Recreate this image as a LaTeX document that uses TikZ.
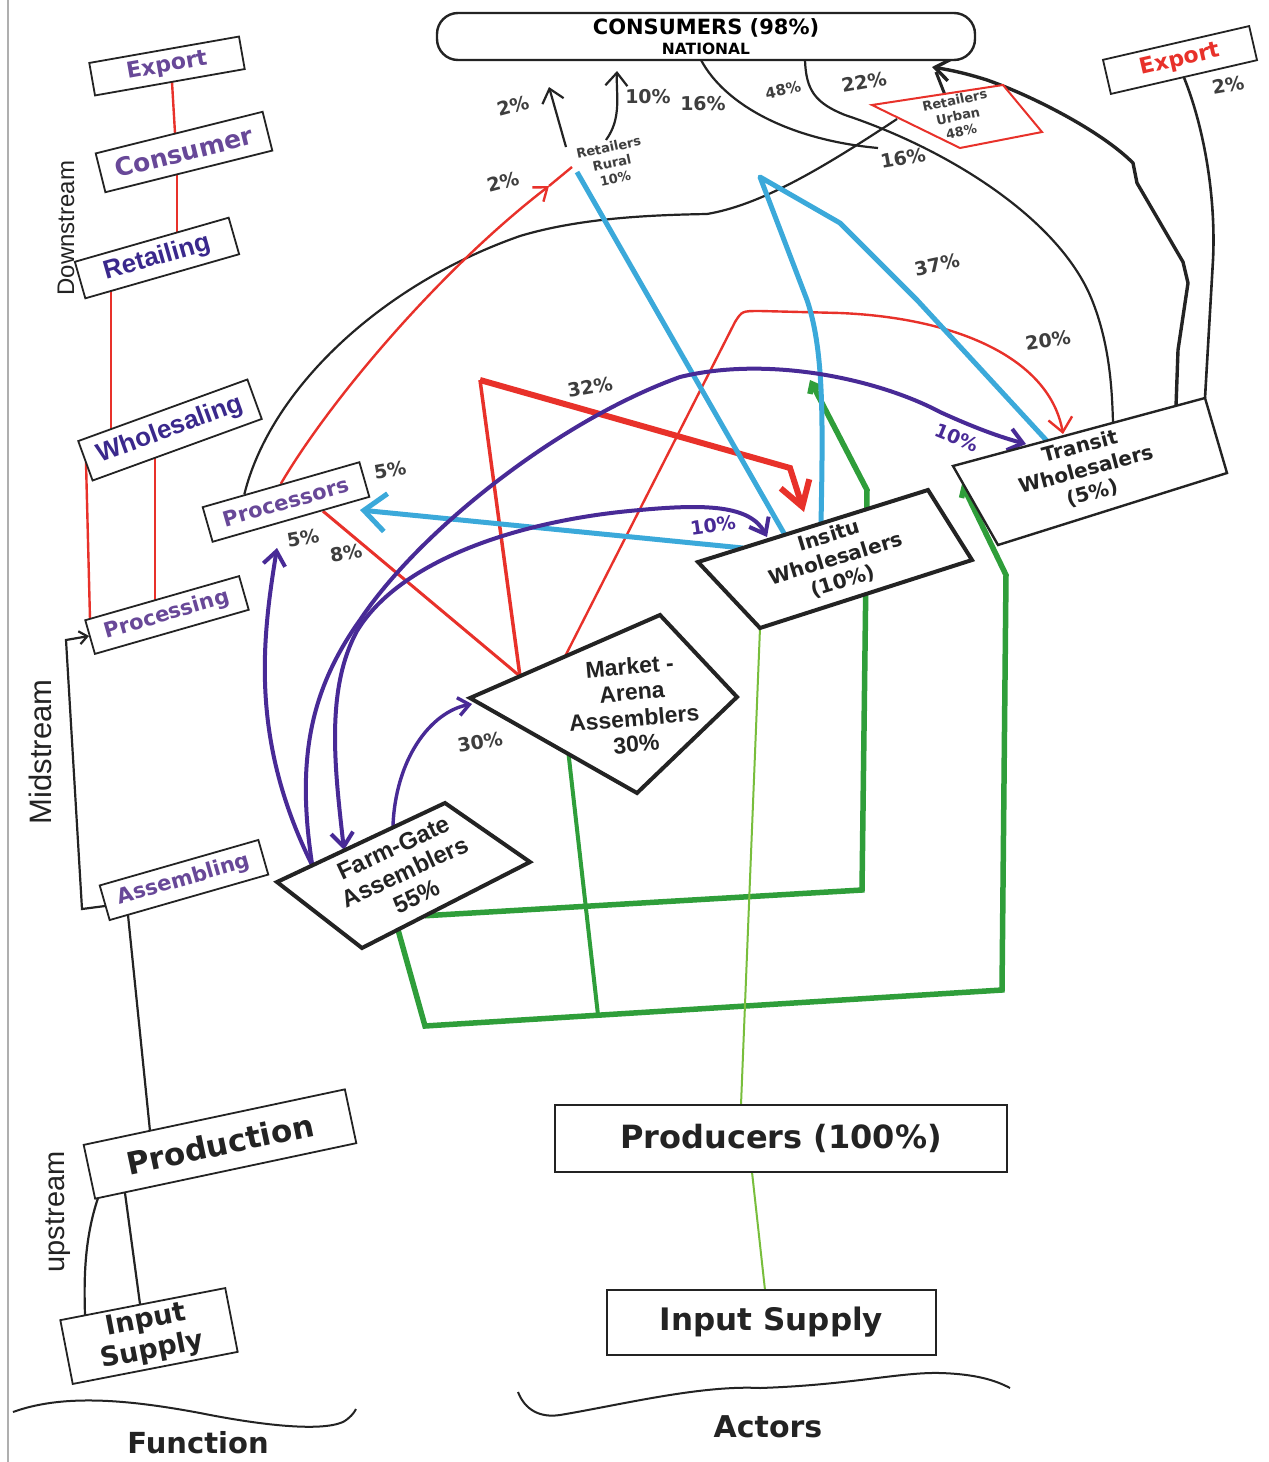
\documentclass[tikz,border=0pt]{standalone}
\usepackage{fontspec}
\setmainfont{Liberation Sans}
\newfontfamily\widefont{DejaVu Sans}
\usetikzlibrary{arrows.meta,calc}

\definecolor{cred}{RGB}{232,49,42}
\definecolor{ccyan}{RGB}{59,169,218}
\definecolor{cpurple}{RGB}{72,42,150}
\definecolor{tpurple}{RGB}{104,72,152}
\definecolor{dpurple}{RGB}{58,40,140}
\definecolor{cgreen}{RGB}{47,158,58}
\definecolor{lgreen}{RGB}{120,190,60}
\definecolor{ink}{RGB}{35,35,35}
\definecolor{pctgray}{RGB}{62,62,62}
\definecolor{edgegray}{RGB}{175,175,175}

\newcommand\fsz[2]{\fontsize{#1}{#2}\selectfont}

\pgfdeclarelayer{paper}
\pgfdeclarelayer{wires}
\pgfsetlayers{paper,wires,main}

\begin{document}
\begin{tikzpicture}[x=1pt,y=-1pt,
  fnbox/.style={draw=ink, line width=1.8pt, fill=white, inner sep=0pt, text=tpurple},
  actbox/.style={draw=ink, line width=2.2pt, fill=white, inner sep=0pt, text=ink},
  shapeedge/.style={draw=ink, line width=4pt, fill=white, line join=miter},
  pctl/.style={text=pctgray, inner sep=0pt, font=\widefont\bfseries\fsz{19}{19}},
  kline/.style={draw=ink, line width=2.2pt},
  rline/.style={draw=cred, line width=2.4pt},
  cline/.style={draw=ccyan, line width=5pt},
  pline/.style={draw=cpurple, line width=4pt},
  gline/.style={draw=cgreen, line width=5.5pt},
  kbarb/.style={-{Straight Barb[length=13pt,width=22pt]}},
  pbarb/.style={-{Straight Barb[length=14pt,width=22pt]}},
  smallbarb/.style={-{Straight Barb[length=8pt,width=13pt]}},
]
\useasboundingbox (0,0) rectangle (1269,1462);
\begin{pgfonlayer}{paper}
\fill[white] (0,0) rectangle (1269,1462);
\draw[edgegray, line width=1.2pt] (8,0) -- (8,1462);
\end{pgfonlayer}

% ---------- function column ----------
\node[fnbox, rotate=10, minimum width=152pt, minimum height=33pt, font=\widefont\bfseries\fsz{22}{22}] (fExport) at (167,66) {Export};
\node[fnbox, rotate=14, minimum width=172pt, minimum height=40pt, font=\widefont\bfseries\fsz{25}{25}] (fConsumer) at (184,152) {Consumer};
\node[fnbox, rotate=16, minimum width=160pt, minimum height=38pt, text=dpurple, font=\bfseries\fsz{26}{26}] (fRetail) at (157,258) {Retailing};
\node[fnbox, rotate=20, minimum width=180pt, minimum height=42pt, text=dpurple, font=\bfseries\fsz{26}{26}] (fWhole) at (170,430) {Wholesaling};
\node[fnbox, rotate=16, minimum width=160pt, minimum height=35pt, font=\widefont\bfseries\fsz{21}{21}] (fProcess) at (167,615) {Processing};
\node[fnbox, rotate=16, minimum width=165pt, minimum height=36pt, font=\widefont\bfseries\fsz{21}{21}] (fAssemble) at (184,880) {Assembling};
\node[fnbox, rotate=12, minimum width=267pt, minimum height=55pt, text=ink, font=\widefont\bfseries\fsz{31}{31}] (fProduction) at (220,1144) {Production};
\node[fnbox, rotate=11, minimum width=168pt, minimum height=65pt, text=ink, align=center, font=\widefont\bfseries\fsz{27}{31}] (fInput) at (149,1336) {Input\\Supply};

\node[rotate=90, text=ink, font=\fsz{24}{24}] (tDown) at (66,228) {Downstream};
\node[rotate=90, text=ink, font=\fsz{31}{31}] (tMid) at (40,752) {Midstream};
\node[rotate=90, text=ink, font=\fsz{29}{29}] (tUp) at (58,1212) {upstream};

\node[text=ink, font=\widefont\bfseries\fsz{29}{29}] (tFunction) at (198,1443) {Function};
\node[text=ink, font=\widefont\bfseries\fsz{30}{30}] (tActors) at (768,1427) {Actors};

% ---------- actors ----------
\node[draw=ink, line width=2.4pt, fill=white, rounded corners=21pt, minimum width=538pt, minimum height=47pt, inner sep=0pt, align=center, text=black, font=\widefont\bfseries\fsz{21}{20}] (cons) at (706,36.5) {CONSUMERS (98\%)\\{\fsz{15.5}{20}NATIONAL}};
\node[actbox, minimum width=452pt, minimum height=67pt, font=\widefont\bfseries\fsz{32}{32}] (aProd) at (781,1138.5) {Producers (100\%)};
\node[actbox, minimum width=329pt, minimum height=65pt, font=\widefont\bfseries\fsz{31}{31}] (aInput) at (771.5,1322.5) {Input Supply};
\node[fnbox, rotate=13, minimum width=150pt, minimum height=35pt, text=cred, font=\widefont\bfseries\fsz{22}{22}] (aExport) at (1180,60) {Export};
\node[fnbox, rotate=16, minimum width=163pt, minimum height=36pt, font=\widefont\bfseries\fsz{21}{21}] (proc) at (286,502) {Processors};

% outline corners of the slanted actor boxes
\coordinate (inA) at (698,562); \coordinate (inB) at (928,490); \coordinate (inC) at (972,560); \coordinate (inD) at (760,628);
\coordinate (trA) at (953,466); \coordinate (trB) at (1205,398); \coordinate (trC) at (1227,473); \coordinate (trD) at (998,545);
\coordinate (maA) at (470,698); \coordinate (maB) at (660,615); \coordinate (maC) at (737,697); \coordinate (maD) at (637,793);
\coordinate (fgA) at (277,882); \coordinate (fgB) at (445,803); \coordinate (fgC) at (530,862); \coordinate (fgD) at (362,948);
\coordinate (ruA) at (872,105); \coordinate (ruB) at (1003,85); \coordinate (ruC) at (1042,132); \coordinate (ruD) at (960,148);

\draw[shapeedge] (inA) -- (inB) -- (inC) -- (inD) -- cycle;
\draw[shapeedge, line width=2.4pt] (trA) -- (trB) -- (trC) -- (trD) -- cycle;
\draw[shapeedge] (maA) -- (maB) -- (maC) -- (maD) -- cycle;
\draw[shapeedge] (fgA) -- (fgB) -- (fgC) -- (fgD) -- cycle;
\draw[draw=cred, line width=2pt, fill=white] (ruA) -- (ruB) -- (ruC) -- (ruD) -- cycle;

\node[rotate=17, align=center, text=ink, font=\widefont\bfseries\fsz{20}{24}] (insitu) at (836,559) {Insitu\\Wholesalers\\(10\%)};
\node[rotate=15, align=center, text=ink, font=\widefont\bfseries\fsz{20}{24}] (transit) at (1086,470) {Transit\\Wholesalers\\(5\%)};
\node[rotate=5, align=center, text=ink, font=\bfseries\fsz{23}{26}] (market) at (633,705) {Market -\\Arena\\Assemblers\\30\%};
\node[rotate=25, align=center, text=ink, font=\bfseries\fsz{24}{27}] (farmgate) at (405,872) {Farm-Gate\\Assemblers\\55\%};
\node[rotate=12, align=center, text=pctgray, font=\widefont\bfseries\fsz{13}{16}] (rural) at (612,163) {Retailers\\Rural\\10\%};
\node[rotate=12, align=center, text=pctgray, font=\widefont\bfseries\fsz{13}{16}] (urban) at (958,116) {Retailers\\Urban\\48\%};

% ---------- share labels ----------
\node[pctl, rotate=10] (p5a) at (390,470) {5\%};
\node[pctl, rotate=10] (p5b) at (303,538) {5\%};
\node[pctl, rotate=10] (p8) at (346,553) {8\%};
\node[pctl, rotate=15] (p2a) at (513,106) {2\%};
\node[pctl] (p10a) at (648,97) {10\%};
\node[pctl] (p16a) at (703,104) {16\%};
\node[pctl, rotate=12, font=\widefont\bfseries\fsz{15}{15}] (p48) at (783,90) {48\%};
\node[pctl, rotate=10] (p22) at (864,82) {22\%};
\node[pctl, rotate=10] (p16b) at (903,158) {16\%};
\node[pctl, rotate=10] (p2b) at (1228,85) {2\%};
\node[pctl, rotate=15] (p2c) at (503,182) {2\%};
\node[pctl, rotate=12] (p37) at (937,265) {37\%};
\node[pctl, rotate=8] (p20) at (1048,340) {20\%};
\node[pctl, rotate=10] (p32) at (590,387) {32\%};
\node[pctl, rotate=-22, text=cpurple] (p10b) at (957,438) {10\%};
\node[pctl, rotate=8, text=cpurple] (p10c) at (713,525) {10\%};
\node[pctl, rotate=10] (p30) at (480,742) {30\%};

% ---------- connectors ----------
\begin{pgfonlayer}{wires}
% function column links
\draw[rline] (172,82) -- (175,133);
\draw[rline] (177,174) -- (177,232);
\draw[rline] (111,291) -- (111,429);
\draw[rline] (86,462) -- (90,619);
\draw[rline] (155,458) -- (155,600);
\draw[kline, smallbarb] (105,906) -- (82,909) -- (66,640) -- (89,636);
\draw[kline] (128,915) -- (150,1131);
\draw[kline] (125,1193) -- (140,1304);
\draw[kline] (98,1198) .. controls (84,1240) and (84,1280) .. (85,1315);

% bottom braces
\draw[ink, line width=2pt] (13,1412) .. controls (60,1395) and (120,1398) .. (200,1413) .. controls (260,1425) and (320,1432) .. (343,1422) .. controls (350,1418) and (354,1413) .. (356,1409);
\draw[ink, line width=2pt] (518,1392) .. controls (525,1410) and (540,1418) .. (560,1415) .. controls (620,1405) and (700,1385) .. (760,1388) .. controls (850,1385) and (900,1372) .. (940,1373) .. controls (975,1374) and (995,1380) .. (1010,1388);

% green supply routes
\draw[gline, smallbarb, line join=miter] ($(fgD)!0.375!(fgC)$) -- (862,890) -- (867,490) -- (810,380);
\draw[gline, smallbarb, line join=miter] ($(fgD)!0.214!(fgC)$) -- (425,1026) -- (1002,990) -- (1006,575) -- (962,484);
\draw[gline, line width=4pt] ($(maA)!0.59!(maD)$) -- (598,1015);
\draw[lgreen, line width=2pt] (inD) -- (741,1105);
\draw[lgreen, line width=2pt] (752,1172) -- (765,1290);

% black flows to consumers
\draw[kline, kbarb] (566,147) -- (549,87);
\draw[kline, kbarb] (606,140) .. controls (622,118) and (616,95) .. (617,71);
\draw[kline] (701,60) .. controls (725,105) and (790,140) .. (878,148);
\draw[kline] (805,60) .. controls (806,90) and (815,103) .. (845,115) .. controls (950,150) and (1060,220) .. (1092,300) .. controls (1110,345) and (1112,390) .. ($(trA)!0.635!(trB)$);
\draw[kline] ($(proc.north west)!0.27!(proc.north east)$) .. controls (270,390) and (380,285) .. (520,236) .. controls (580,218) and (650,215) .. (707,214) .. controls (760,205) and (820,170) .. (897,119);
\draw[kline, line width=3.4pt, -{Straight Barb[length=15pt,width=22pt]}] ($(trA)!0.885!(trB)$) -- (1178,350) -- (1188,283) -- (1183,262) -- (1137,183) -- (1133,163) .. controls (1100,130) and (1030,95) .. (987,80) .. controls (965,73) and (950,70) .. (932,67);
\draw[kline, line width=3pt] (945,95) -- (936,72);
\draw[kline, line width=2.6pt] (aExport.south) .. controls (1205,130) and (1216,200) .. (1213,260) -- (trB);

% red flows
\draw[rline, -{Straight Barb[length=12pt,width=18pt]}] ($(proc.north west)!0.5!(proc.north east)$) .. controls (330,400) and (440,270) .. (549,186);
\draw[rline] (549,186) -- (572,167);
\draw[rline, line width=3pt] ($(proc.south west)!0.7!(proc.south east)$) -- ($(maA)!0.263!(maB)$);
\draw[rline, line width=3.5pt] ($(maA)!0.263!(maB)$) -- (480,380);
\draw[rline, line width=6pt, line join=miter, -{Straight Barb[length=24pt,width=30pt]}] (480,380) -- (790,468) -- (804,512);
\draw[rline, -{Straight Barb[length=14pt,width=24pt]}] ($(maA)!0.5!(maB)$) -- (735,322) .. controls (742,311) .. (760,311) -- (840,313) .. controls (960,318) and (1050,360) .. (1063,434);

% cyan flows
\draw[cline, -{Straight Barb[length=22pt,width=38pt]}] (743,548) -- (360,510);
\draw[cline] (577,172) -- (785,535);
\draw[cline, line join=round] (821,524) .. controls (823,420) and (824,350) .. (807,300) -- (760,177) -- (840,223) -- (917,300) -- (1047,441);

% purple flows
\draw[pline, pbarb] ($(fgA)!0.21!(fgB)$) .. controls (250,740) and (262,640) .. (277,548);
\draw[pline, pbarb] ($(fgA)!0.21!(fgB)$) .. controls (296,760) and (310,690) .. (360,620) .. controls (420,530) and (560,420) .. (680,377) .. controls (770,355) and (880,380) .. (940,412) .. controls (975,428) and (1000,437) .. (1026,444);
\draw[pline, {Straight Barb[length=14pt,width=22pt]}-{Straight Barb[length=14pt,width=22pt]}] (344,850) .. controls (335,770) and (325,690) .. (357,631) .. controls (400,560) and (520,520) .. (640,510) .. controls (705,504) and (750,505) .. (767,537);
\draw[pline, line width=3.4pt, -{Straight Barb[length=11pt,width=18pt]}] ($(fgA)!0.69!(fgB)$) .. controls (395,760) and (430,712) .. (472,704);
\end{pgfonlayer}
\end{tikzpicture}
\end{document}
